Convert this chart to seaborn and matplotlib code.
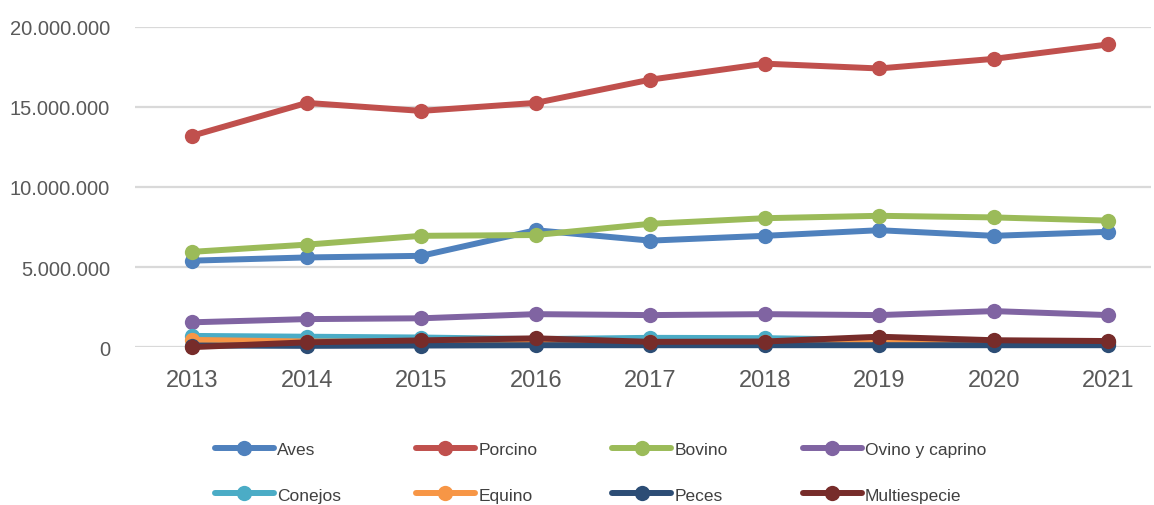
import numpy as np
import pandas as pd
import matplotlib
matplotlib.use('Agg')
import matplotlib.pyplot as plt
import seaborn as sns
from matplotlib.ticker import FuncFormatter

# data (head counts)
years = [2013, 2014, 2015, 2016, 2017, 2018, 2019, 2020, 2021]
aves = [5400000, 5600000, 5700000, 7300000, 6650000, 6950000, 7300000, 6950000, 7200000]
porcino = [13200000, 15250000, 14750000, 15250000, 16700000, 17700000, 17400000, 18000000, 18900000]
bovino = [5950000, 6400000, 6950000, 7000000, 7700000, 8050000, 8200000, 8100000, 7900000]
ovino = [1550000, 1750000, 1800000, 2060000, 2000000, 2060000, 2000000, 2250000, 2000000]
conejos = [700000, 650000, 600000, 500000, 580000, 560000, 450000, 380000, 320000]
equino = [450000, 350000, 330000, 320000, 300000, 300000, 300000, 280000, 260000]
peces = [100000, 80000, 100000, 120000, 120000, 120000, 120000, 120000, 120000]
multi = [0, 300000, 420000, 550000, 330000, 350000, 650000, 430000, 380000]

names = ['Aves', 'Porcino', 'Bovino', 'Ovino y caprino',
         'Conejos', 'Equino', 'Peces', 'Multiespecie']
colors = ['#4F81BD', '#C0504D', '#9BBB59', '#8064A2',
          '#4BACC6', '#F79646', '#2C4D75', '#772C2A']
series = [aves, porcino, bovino, ovino, conejos, equino, peces, multi]

rows = []
for n, vals in zip(names, series):
    for y, v in zip(years, vals):
        rows.append({'year': y, 'value': v, 'especie': n})
df = pd.DataFrame(rows)

sns.set_style('white')
plt.rcParams['font.family'] = ['Liberation Sans Narrow', 'Liberation Sans', 'DejaVu Sans']

fig = plt.figure(figsize=(11.54, 5.06), dpi=100)
ax = fig.add_axes([0.117, 0.312, 0.88, 0.633])

sns.lineplot(data=df, x='year', y='value', hue='especie', hue_order=names,
             palette=dict(zip(names, colors)), marker='o', markersize=11,
             markeredgewidth=0, linewidth=4.3, ax=ax, legend=True)
for ln in ax.lines:
    ln.set_clip_on(False)

ax.set_ylim(0, 20000000)
ax.set_xlim(2012.5, 2021.37)
ax.set_yticks([0, 5000000, 10000000, 15000000, 20000000])
ax.set_xticks(years)
ax.yaxis.set_major_formatter(FuncFormatter(lambda v, p: f"{int(v):,}".replace(',', '.')))
ax.grid(axis='y', color='#d9d9d9', linewidth=1.6)
ax.set_axisbelow(True)
for s in ax.spines.values():
    s.set_visible(False)
ax.tick_params(axis='y', labelsize=14.5, colors='#595959', length=0, pad=18)
ax.tick_params(axis='x', labelsize=17, colors='#595959', length=0, pad=16)
ax.set_xlabel('')
ax.set_ylabel('')

# legend filled row by row like the original
handles, labels = ax.get_legend_handles_labels()
order = [0, 4, 1, 5, 2, 6, 3, 7]
ax.legend([handles[i] for i in order], [labels[i] for i in order],
          loc='upper left', bbox_to_anchor=(0.063, -0.247),
          ncol=4, frameon=False, fontsize=12.5, handlelength=3.4,
          handletextpad=0.2, columnspacing=4.3, labelspacing=1.75,
          labelcolor='#404040')

fig.savefig('out.png', dpi=100)
